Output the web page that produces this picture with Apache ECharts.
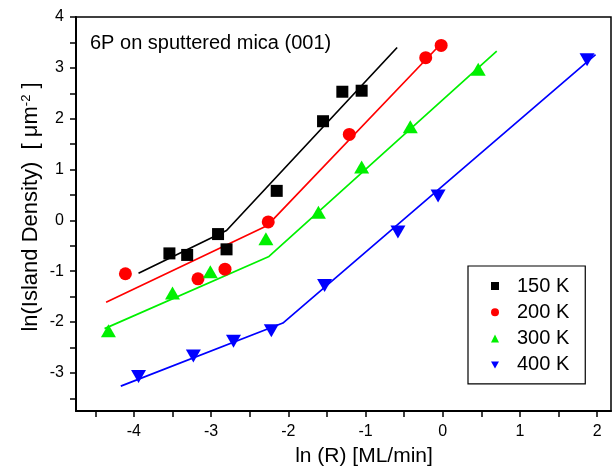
<!DOCTYPE html>
<html>
<head>
<meta charset="utf-8">
<script src="https://cdn.jsdelivr.net/npm/echarts@6/dist/echarts.min.js"></script>
<style>
  html, body { margin: 0; padding: 0; background: #fff; }
  #chart { width: 613px; height: 468px; }
</style>
</head>
<body>
<div id="chart"></div>
<script>
// Island density vs. deposition rate for 6P on sputtered mica (001)
const seriesNames = ['150 K', '200 K', '300 K', '400 K'];
const seriesColors = ['#000000', '#ff0000', '#00f000', '#0000ff'];

// measured points: [ln R, ln density]
const points150 = [[-3.54, -0.65], [-3.31, -0.68], [-2.91, -0.27], [-2.80, -0.57],
                   [-2.15, 0.58], [-1.55, 1.95], [-1.30, 2.53], [-1.05, 2.55]];
const points200 = [[-4.11, -1.05], [-3.17, -1.15], [-2.82, -0.96], [-2.26, -0.03],
                   [-1.21, 1.69], [-0.22, 3.20], [-0.02, 3.44]];
const points300 = [[-4.33, -2.17], [-3.50, -1.43], [-3.01, -1.01], [-2.29, -0.36],
                   [-1.61, 0.16], [-1.05, 1.05], [-0.42, 1.84], [0.46, 2.97]];
const points400 = [[-3.94, -3.07], [-3.23, -2.67], [-2.71, -2.38], [-2.22, -2.17],
                   [-1.53, -1.28], [-0.58, -0.23], [-0.06, 0.48], [1.87, 3.16]];

// two-segment fits: start, kink, end
const fit150 = [[-3.94, -1.04], [-2.80, -0.20], [-0.59, 3.40]];
const fit200 = [[-4.36, -1.61], [-2.27, -0.10], [-0.05, 3.43]];
const fit300 = [[-4.38, -2.13], [-2.25, -0.71], [0.70, 3.33]];
const fit400 = [[-4.17, -3.26], [-2.07, -2.02], [1.98, 3.26]];

// axis ticks and labels
const xTicks = [-4.5, -4, -3.5, -3, -2.5, -2, -1.5, -1, -0.5, 0, 0.5, 1, 1.5, 2];
const xTickLabels = [-4, -3, -2, -1, 0, 1, 2];
const yTicks = [-3.5, -3, -2.5, -2, -1.5, -1, -0.5, 0, 0.5, 1, 1.5, 2, 2.5, 3, 3.5, 4];
const yTickLabels = [-3, -2, -1, 0, 1, 2, 3, 4];

const FONT = '"Liberation Sans", Arial, Helvetica, sans-serif';

const pointSets = [points150, points200, points300, points400];
const fitSets = [fit150, fit200, fit300, fit400];
const markerShapes = ['rect', 'circle', 'triangle', 'triangle'];
const markerSizes = [[12, 12], [13, 13], [15, 13], [15, 13]];
const markerRotate = [0, 0, 0, 180];
const legendIcons = ['rect', 'circle', 'triangle', 'path://M0,0L10,0L5,8.7Z'];

const series = [];
fitSets.forEach((fit, i) => {
  series.push({
    name: seriesNames[i] + ' fit',
    type: 'line',
    data: fit,
    showSymbol: false,
    silent: true,
    lineStyle: { color: seriesColors[i], width: 1.7 },
    z: 2
  });
});
pointSets.forEach((pts, i) => {
  series.push({
    name: seriesNames[i],
    type: 'scatter',
    data: pts,
    symbol: markerShapes[i],
    symbolSize: markerSizes[i],
    symbolRotate: markerRotate[i],
    itemStyle: { color: seriesColors[i], opacity: 1 },
    z: 3
  });
});

const axisCommon = {
  type: 'value',
  axisLine: { show: true, onZero: false, lineStyle: { color: '#000', width: 2 } },
  splitLine: { show: false },
  axisLabel: { color: '#000', fontSize: 16, fontFamily: FONT, margin: 12 }
};

const chart = echarts.init(document.getElementById('chart'));
chart.setOption({
  animation: false,
  backgroundColor: '#fff',
  grid: {
    left: 76, top: 17, right: 2, bottom: 57,
    show: true, borderColor: '#000', borderWidth: 1.5, backgroundColor: 'transparent'
  },
  xAxis: Object.assign({}, axisCommon, {
    min: -4.75, max: 2.18,
    axisTick: { show: true, inside: false, length: 6, customValues: xTicks,
                lineStyle: { color: '#000', width: 1.5 } },
    axisLabel: Object.assign({}, axisCommon.axisLabel, { customValues: xTickLabels, margin: 13 })
  }),
  yAxis: Object.assign({}, axisCommon, {
    min: -3.75, max: 4,
    axisTick: { show: true, inside: false, length: 6, customValues: yTicks,
                lineStyle: { color: '#000', width: 1.5 } },
    axisLabel: Object.assign({}, axisCommon.axisLabel, { customValues: yTickLabels })
  }),
  legend: {
    data: seriesNames.map((n, i) => ({ name: n, icon: legendIcons[i] })),
    orient: 'vertical',
    left: 468, top: 266,
    padding: [10, 16, 9, 23],
    itemWidth: 8, itemHeight: 8, itemGap: 6.3,
    borderColor: '#000', borderWidth: 1.2,
    textStyle: { color: '#000', fontSize: 20, lineHeight: 20, fontFamily: FONT, padding: [0, 0, 0, 13] },
    selectedMode: false
  },
  graphic: [
    {
      type: 'text', left: 90, top: 33,
      style: { text: '6P on sputtered mica (001)', font: '20px ' + FONT, fill: '#000' }
    },
    {
      type: 'text', x: 364, y: 456,
      style: { text: 'ln (R) [ML/min]', font: '21px ' + FONT, fill: '#000',
               align: 'center', verticalAlign: 'middle' }
    },
    {
      type: 'text', x: 31, y: 207, rotation: Math.PI / 2,
      style: {
        text: '{a|ln(Island Density)  [ μm}{s|-2}{a| ]}',
        align: 'center', verticalAlign: 'middle', fill: '#000',
        rich: {
          a: { fontSize: 22, fontFamily: FONT, fill: '#000' },
          s: { fontSize: 13, fontFamily: FONT, fill: '#000', padding: [0, 0, 10, 0] }
        }
      }
    }
  ],
  series: series
});
</script>
</body>
</html>
